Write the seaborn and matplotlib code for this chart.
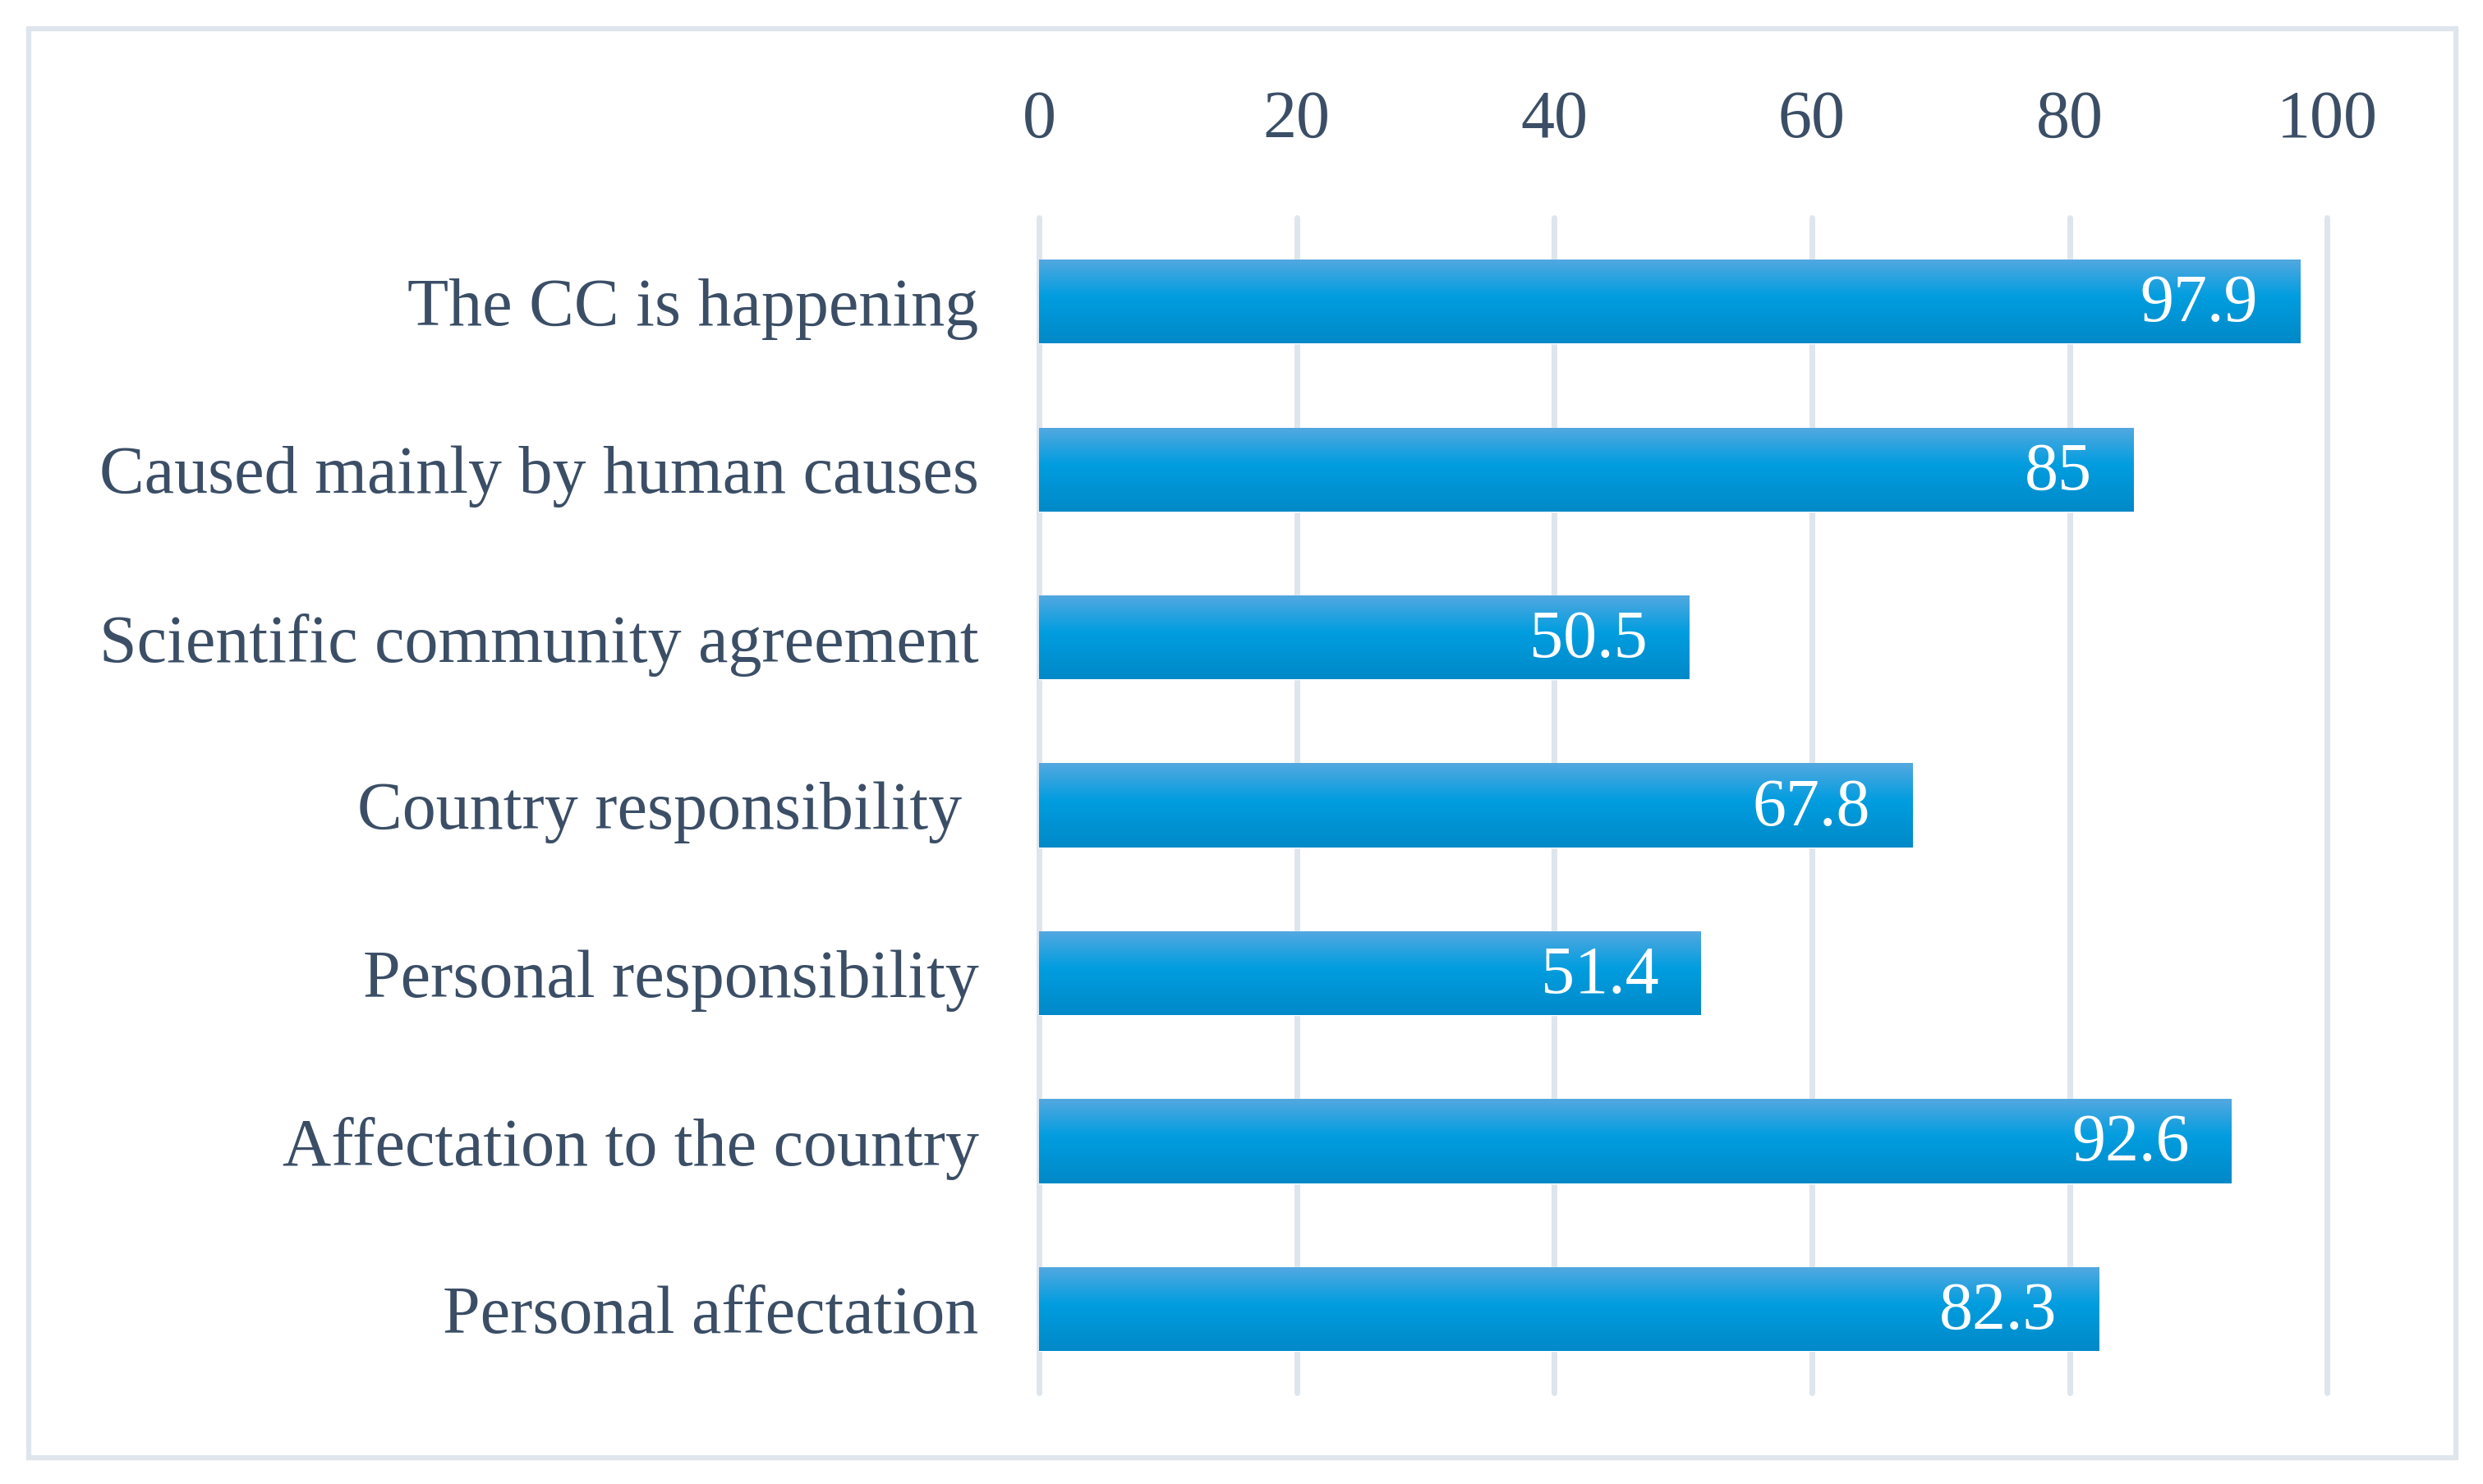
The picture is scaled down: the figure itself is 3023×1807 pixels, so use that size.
import numpy as np
import pandas as pd
import matplotlib.pyplot as plt
import seaborn as sns
from matplotlib.patches import Rectangle

# values
categories = ["The CC is happening", "Caused mainly by human causes",
              "Scientific community agreement", "Country responsibility ",
              "Personal responsibility", "Affectation to the country",
              "Personal affectation"]
values = [97.9, 85, 50.5, 67.8, 51.4, 92.6, 82.3]
value_labels = ["97.9", "85", "50.5", "67.8", "51.4", "92.6", "82.3"]
x_ticks = [0, 20, 40, 60, 80, 100]

df = pd.DataFrame({"item": categories, "pct": values})

sns.set_style("white")
plt.rcParams["font.family"] = ["Liberation Serif", "DejaVu Serif"]
text_col = "#3b4e66"
grid_col = "#dfe5ec"
fs = 59

fig = plt.figure(figsize=(30.23, 18.07), dpi=100)
ax = fig.add_axes([0.4185, 0.0614, 0.9372 - 0.4185, 0.8533 - 0.0614])

sns.barplot(data=df, x="pct", y="item", orient="h", color="#009ddf",
            width=0.5, saturation=1, ax=ax, zorder=2)

# vertical gradient on each bar
stops = np.array([[0.33, 0.66, 0.88], [0.0, 0.616, 0.875], [0.0, 0.537, 0.784]])
pos = np.linspace(0, 1, 200)
grad = np.stack([np.interp(pos, [0, 0.45, 1], stops[:, c]) for c in range(3)], axis=1)
grad = grad[:, None, :]
for p in list(ax.patches):
    x0, y0 = p.get_x(), p.get_y()
    w, h = p.get_width(), p.get_height()
    im = ax.imshow(grad, extent=[x0, x0 + w, y0 + h, y0], aspect="auto",
                   origin="upper", zorder=3)
    im.set_clip_path(p)
    ax.annotate(value_labels[len(ax.texts)], (x0 + w, y0 + h / 2),
                xytext=(-37, -3), textcoords="offset points",
                ha="right", va="center", color="white", fontsize=fs, zorder=4)

ax.set_xlim(0, 100)
ax.set_ylim(len(categories) - 0.5, -0.5)
ax.set_xticks(x_ticks)
ax.xaxis.tick_top()
ax.set_xlabel("")
ax.set_ylabel("")
ax.tick_params(axis="x", length=0, pad=58, labelsize=fs, labelcolor=text_col)
ax.tick_params(axis="y", length=0, pad=53, labelsize=fs, labelcolor=text_col)
ax.grid(axis="x", color=grid_col, lw=5, zorder=0)
ax.set_axisbelow(True)
for gl in ax.get_xgridlines():
    gl.set_clip_on(False)
for s in ax.spines.values():
    s.set_visible(False)

# outer frame around the chart
fig.patches.append(Rectangle((35 / 3023, 1 - 1775 / 1807), (2990 - 35) / 3023,
                             (1775 - 35) / 1807, transform=fig.transFigure,
                             fill=False, ec=grid_col, lw=4.5))

fig.savefig("out.png", dpi=100)
